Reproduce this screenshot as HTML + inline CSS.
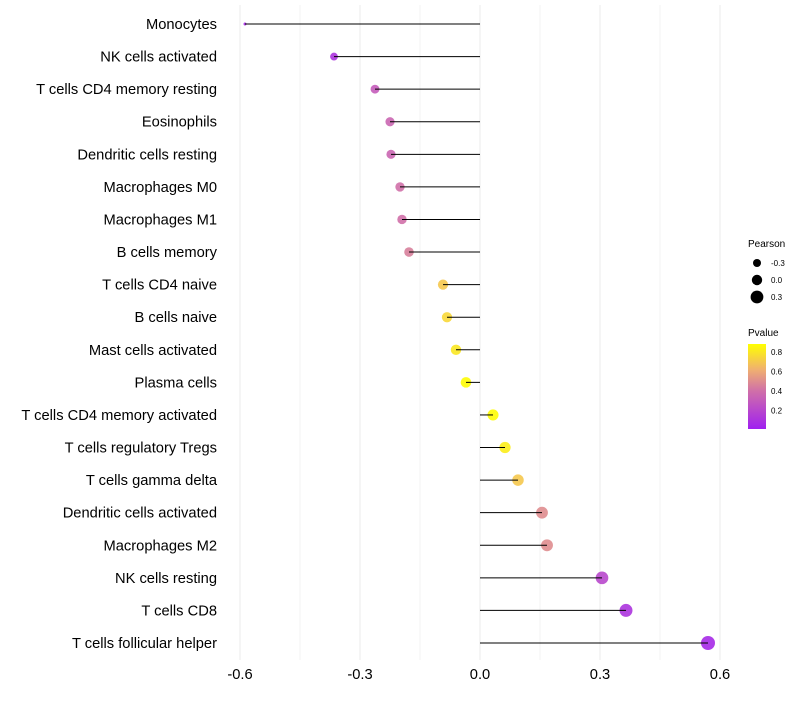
<!DOCTYPE html>
<html><head><meta charset="utf-8"><style>
body{margin:0;background:#fff;font-family:"Liberation Sans",sans-serif}
</style></head><body>
<svg id="c" width="800" height="700" xmlns="http://www.w3.org/2000/svg">
<defs><linearGradient id="pg" x1="0" y1="1" x2="0" y2="0">
<stop offset="0" stop-color="#a020f0"/><stop offset="0.45" stop-color="#d070a8"/><stop offset="0.7" stop-color="#f0b070"/><stop offset="1" stop-color="#ffff00"/>
</linearGradient></defs>
</svg>
<script>
const categories=["Monocytes","NK cells activated","T cells CD4 memory resting","Eosinophils","Dendritic cells resting","Macrophages M0","Macrophages M1","B cells memory","T cells CD4 naive","B cells naive","Mast cells activated","Plasma cells","T cells CD4 memory activated","T cells regulatory  Tregs ","T cells gamma delta","Dendritic cells activated","Macrophages M2","NK cells resting","T cells CD8","T cells follicular helper"];
const pearson=[-0.5875,-0.365,-0.2625,-0.225,-0.2225,-0.2,-0.195,-0.1775,-0.0925,-0.0825,-0.06,-0.035,0.0325,0.0625,0.095,0.155,0.1675,0.305,0.365,0.57];
const pvalue=[0.05,0.1,0.3,0.35,0.35,0.4,0.4,0.45,0.7,0.75,0.8,0.87,0.87,0.82,0.7,0.5,0.5,0.2,0.1,0.05];
const xTicks=[-0.6,-0.3,0,0.3,0.6];
const xTickLabels=["-0.6","-0.3","0.0","0.3","0.6"];
const xMinor=[-0.45,-0.15,0.15,0.45];
const sizeLegend=[-0.3,0,0.3];
const colorLegend=[0.2,0.4,0.6,0.8];
const NS="http://www.w3.org/2000/svg",svg=document.getElementById('c');
const pmin=Math.min(...pearson),pmax=Math.max(...pearson);
const xs=v=>480+400*v, ys=i=>24+i*(619/19), rs=v=>1.5+5.5*Math.sqrt(Math.max(0,(v-pmin)/(pmax-pmin)));
const stops=[[0,[160,32,240]],[0.4,[208,112,168]],[0.62,[240,176,112]],[0.88,[255,255,0]]];
function col(p){if(p<=stops[0][0])return 'rgb('+stops[0][1]+')';for(let k=1;k<stops.length;k++){if(p<=stops[k][0]){const a=stops[k-1],b=stops[k],t=(p-a[0])/(b[0]-a[0]);return 'rgb('+a[1].map((c,j)=>Math.round(c+(b[1][j]-c)*t))+')';}}return 'rgb(255,255,0)';}
function mk(t,a,txt){const e=document.createElementNS(NS,t);for(const k in a)e.setAttribute(k,a[k]);if(txt!==undefined)e.textContent=txt;svg.appendChild(e);return e;}
xMinor.forEach(v=>{const l=mk('line',{x1:xs(v),x2:xs(v),y1:5,y2:660,stroke:'#f3f3f3','stroke-width':1});

});
xTicks.forEach((v,i)=>{const l=mk('line',{x1:xs(v),x2:xs(v),y1:5,y2:660,stroke:'#ebebeb','stroke-width':1});


const t=mk('text',{x:xs(v),y:679,'text-anchor':'middle','font-size':14.7,fill:'#000'},xTickLabels[i]);

});
categories.forEach((c,i)=>{const y=ys(i);
const t=mk('text',{x:217,y:y+5,'text-anchor':'end','font-size':14.7,fill:'#000'},c);


const d=mk('circle',{cx:xs(pearson[i]),cy:y,r:rs(pearson[i]),fill:col(pvalue[i]),opacity:0.9});


const l=mk('line',{x1:xs(0),x2:xs(pearson[i]),y1:y,y2:y,stroke:'#000','stroke-width':1});

});
let t=mk('text',{x:748,y:247,'font-size':10},'Pearson');


sizeLegend.forEach((v,i)=>{const y=263+i*17;
const d=mk('circle',{cx:757,cy:y,r:4+i*1.2,fill:'#000'});


const l=mk('text',{x:771,y:y+3,'font-size':8},v.toFixed(1));

});
t=mk('text',{x:748,y:336,'font-size':10},'Pvalue');


const bar=mk('rect',{x:748,y:344,width:18,height:85,fill:'url(#pg)'});


colorLegend.forEach(v=>{const y=429-(v-0.01)*(85/0.87);
const l=mk('text',{x:771,y:y+3,'font-size':8},v.toFixed(1));

});
</script>
</body></html>
